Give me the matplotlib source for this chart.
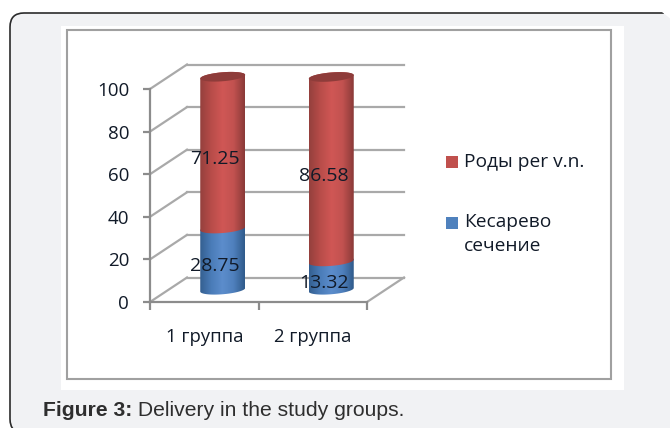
import numpy as np
import matplotlib
matplotlib.use("Agg")
import matplotlib.pyplot as plt
from matplotlib.colors import LinearSegmentedColormap
from matplotlib.patches import FancyBboxPatch, Polygon, Rectangle

groups = ["1 группа", "2 группа"]
cesarean = [28.75, 13.32]
vaginal = [71.25, 86.58]
cesarean_labels = ["28.75", "13.32"]
vaginal_labels = ["71.25", "86.58"]
y_ticks = [0, 20, 40, 60, 80, 100]
legend_red = "Роды per v.n."
legend_blue = "Кесарево\nсечение"

W, H = 670, 428
TEXT = "#111a28"
GRID = "#a9a9a9"

plt.rcParams["font.family"] = ["Open Sans", "DejaVu Sans"]

fig = plt.figure(figsize=(W / 100, H / 100), dpi=100, facecolor="white")

# page background, everything in pixels
bg = fig.add_axes([0, 0, 1, 1])
bg.set_xlim(0, W)
bg.set_ylim(H, 0)
bg.axis("off")
bg.add_patch(FancyBboxPatch((10, 13), 680, 420, boxstyle="round,pad=0,rounding_size=14",
                            fc="#f1f2f4", ec="#2b2b2b", lw=1.2))
bg.add_patch(Polygon([(662, 12), (672, 12), (672, 20)], fc="white", ec="none"))
bg.add_patch(Rectangle((664, 12), 8, 1.5, fc="white", ec="none"))
bg.add_patch(Rectangle((61, 26), 563, 364, fc="white", ec="none"))
bg.add_patch(Rectangle((67, 30), 544, 349, fc="white", ec="#a0a0a0", lw=1.5))

# legend
bg.add_patch(Rectangle((446, 156), 12, 12, fc="#c0504d", ec="none"))
bg.add_patch(Rectangle((446, 217), 12, 12, fc="#4f81bd", ec="none"))
bg.text(464, 162, legend_red, fontsize=13.8, color=TEXT, va="center", ha="left")
bg.text(464, 222, legend_blue.split("\n")[0], fontsize=13.8, color=TEXT, va="center", ha="left")
bg.text(464, 246, legend_blue.split("\n")[1], fontsize=13.8, color=TEXT, va="center", ha="left")

# caption
cap = bg.text(43, 410, "Figure 3:", fontsize=15.2, fontweight="bold", color="#2e2e2e",
              family="Liberation Sans", va="center", ha="left")
bg.annotate(" Delivery in the study groups.", xy=(1, 0), xycoords=cap, va="bottom", ha="left",
            fontsize=15.2, color="#2e2e2e", family="Liberation Sans")

# front plane of the chart
left, right, top, bottom = 150, 367, 89, 302
ax = fig.add_axes([left / W, 1 - bottom / H, (right - left) / W, (bottom - top) / H])
ax.patch.set_alpha(0)
ax.set_xlim(0, len(groups))
ax.set_ylim(0, 100)

px_x = len(groups) / (right - left)
px_y = 100 / (bottom - top)
depth_x = 37 * px_x
depth_y = 24.5 * px_y

for t in y_ticks:
    ax.plot([depth_x, len(groups) + depth_x], [t + depth_y, t + depth_y], color=GRID, lw=1.6, clip_on=False, zorder=1)
    ax.plot([0, depth_x], [t, t + depth_y], color=GRID, lw=1.6, clip_on=False, zorder=1)
ax.plot([len(groups), len(groups) + depth_x], [0, depth_y], color=GRID, lw=1.6, clip_on=False, zorder=1)

for name in ["top", "right"]:
    ax.spines[name].set_visible(False)
for name in ["left", "bottom"]:
    ax.spines[name].set_color("#8c8c8c")
    ax.spines[name].set_linewidth(1.6)
ax.set_yticks(y_ticks)
ax.set_yticklabels([str(t) for t in y_ticks], fontsize=13.5, color=TEXT)
ax.set_xticks(range(len(groups) + 1))
ax.set_xticklabels([""] * (len(groups) + 1))
ax.tick_params(axis="y", length=5, width=1.6, color="#8c8c8c", pad=10)
ax.tick_params(axis="x", length=6, width=1.6, color="#8c8c8c")

red_cmap = LinearSegmentedColormap.from_list("r", ["#94403d", "#b84c49", "#d05755", "#c25250", "#8a3a38"])
blue_cmap = LinearSegmentedColormap.from_list("b", ["#345f90", "#4a7cb8", "#5c8dcc", "#4f80bd", "#2f5a8a"])
gradient = np.linspace(0, 1, 128).reshape(1, -1)

half_w = 22.5 * px_x
half_h = 4.5 * px_y
tilt = 1.8 * px_y


def arc(xc, y, start, stop):
    a = np.linspace(start, stop, 40)
    return np.column_stack([xc + half_w * np.cos(a), y + half_h * np.sin(a) + tilt * np.cos(a)])


def segment(xc, y0, y1, cmap):
    # lower arc of the bottom edge, then the upper arc of the top edge
    shape = np.vstack([arc(xc, y0, np.pi, 2 * np.pi), arc(xc, y1, 0, np.pi)])
    clip = Polygon(shape, closed=True, transform=ax.transData, fc="none", ec="none", clip_on=False)
    ax.add_patch(clip)
    im = ax.imshow(gradient, cmap=cmap, aspect="auto", zorder=3,
                   extent=(xc - half_w, xc + half_w, y0 - half_h * 2, y1 + half_h * 2))
    im.set_clip_path(clip)
    # the cylinders stick out above the front plane
    im.set_clip_box(fig.bbox)


for i in range(len(groups)):
    xc = i + 0.5 + depth_x / 2
    base = depth_y / 2
    segment(xc, base, base + cesarean[i], blue_cmap)
    segment(xc, base + cesarean[i], base + cesarean[i] + vaginal[i], red_cmap)
    ax.add_patch(Polygon(arc(xc, base + cesarean[i] + vaginal[i], 0, 2 * np.pi), closed=True,
                         fc="#8e3c3a", ec="none", zorder=4, clip_on=False))
    ax.text(i + 0.5 + 11 * px_x, cesarean[i] / 2 + 5 * px_y, cesarean_labels[i], fontsize=14,
            color=TEXT, ha="center", va="center", zorder=5)
    ax.text(i + 0.5 + 11 * px_x, cesarean[i] + vaginal[i] / 2 + 5.5 * px_y, vaginal_labels[i], fontsize=14,
            color=TEXT, ha="center", va="center", zorder=5)
    ax.annotate(groups[i], xy=(i + 0.5, 0), xytext=(0, -25.5), textcoords="offset points",
                ha="center", va="center", fontsize=13.3, color=TEXT, annotation_clip=False)

ax.set_xlim(0, len(groups))
ax.set_ylim(0, 100)

fig.savefig("out.png", dpi=100)
